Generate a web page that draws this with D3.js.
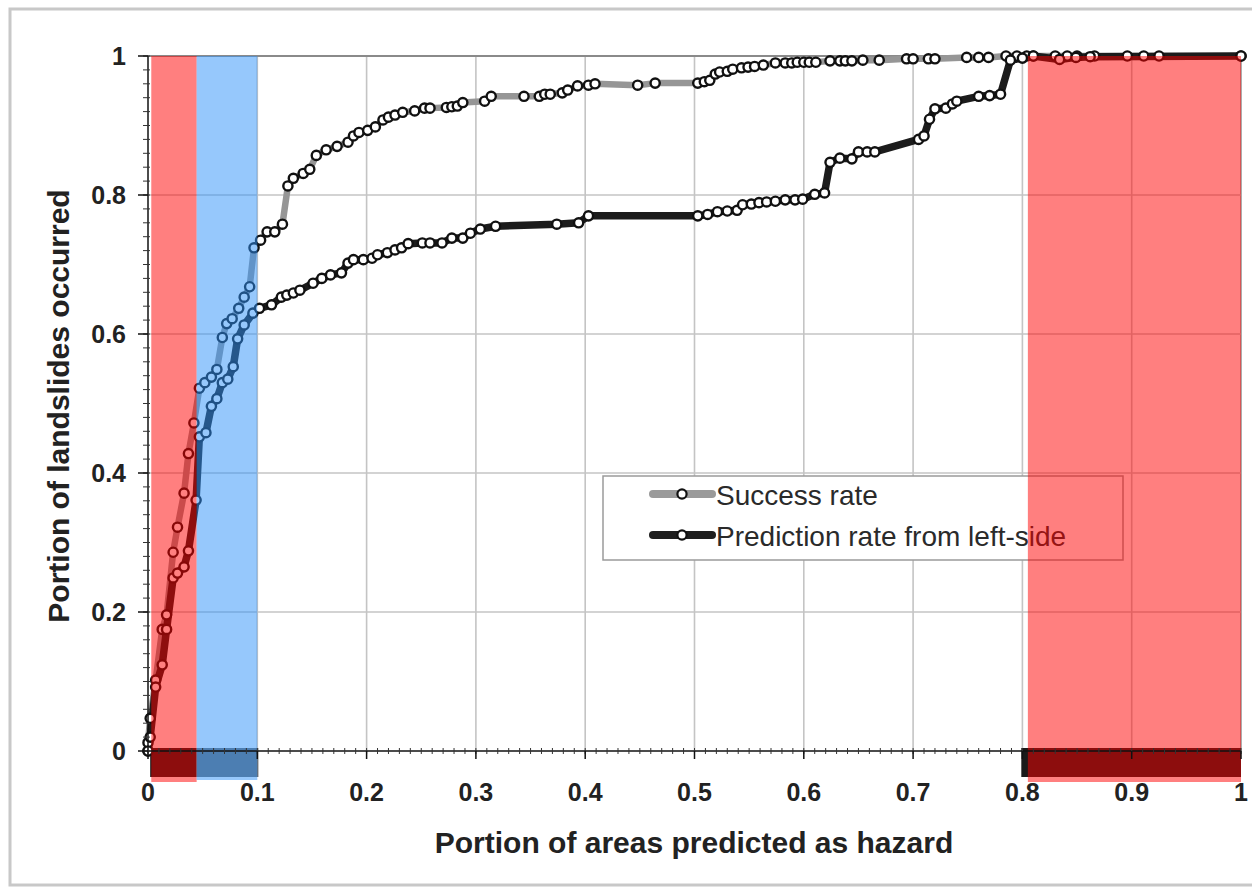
<!DOCTYPE html>
<html>
<head>
<meta charset="utf-8">
<script src="https://cdn.jsdelivr.net/npm/d3@7"></script>
<style>
  body { margin: 0; background: #fff; }
  svg { display: block; }
</style>
</head>
<body>
<div class="chart"></div>
<script>
const xTicks = [0, 0.1, 0.2, 0.3, 0.4, 0.5, 0.6, 0.7, 0.8, 0.9, 1]
const yTicks = [0, 0.2, 0.4, 0.6, 0.8, 1]
const xTickLabels = ["0", "0.1", "0.2", "0.3", "0.4", "0.5", "0.6", "0.7", "0.8", "0.9", "1"]
const yTickLabels = ["0", "0.2", "0.4", "0.6", "0.8", "1"]
const seriesNames = ["Success rate", "Prediction rate from left-side"]

const successX = [0, 0, 0.002, 0.007, 0.013, 0.017, 0.023, 0.027, 0.033, 0.037, 0.042, 0.047, 0.052, 0.058, 0.063, 0.068, 0.072, 0.077, 0.083, 0.088, 0.093, 0.097, 0.103, 0.109, 0.116, 0.123, 0.128, 0.133, 0.142, 0.148, 0.154, 0.163, 0.173, 0.183, 0.188, 0.193, 0.201, 0.208, 0.215, 0.22, 0.226, 0.233, 0.244, 0.253, 0.258, 0.273, 0.278, 0.283, 0.288, 0.308, 0.314, 0.344, 0.358, 0.363, 0.368, 0.379, 0.384, 0.393, 0.403, 0.409, 0.448, 0.464, 0.503, 0.509, 0.514, 0.519, 0.523, 0.53, 0.535, 0.543, 0.549, 0.555, 0.563, 0.574, 0.583, 0.589, 0.594, 0.6, 0.605, 0.611, 0.624, 0.633, 0.638, 0.644, 0.654, 0.669, 0.694, 0.7, 0.714, 0.72, 0.749, 0.76, 0.769, 0.785, 0.795, 0.804, 0.81, 0.83, 0.841, 0.85, 0.866, 0.896, 0.911, 0.925, 1]
const successY = [0, 0.012, 0.047, 0.102, 0.175, 0.196, 0.286, 0.322, 0.371, 0.428, 0.472, 0.522, 0.53, 0.538, 0.549, 0.595, 0.615, 0.622, 0.637, 0.653, 0.668, 0.724, 0.735, 0.747, 0.747, 0.758, 0.813, 0.824, 0.831, 0.837, 0.857, 0.865, 0.87, 0.876, 0.885, 0.89, 0.893, 0.898, 0.908, 0.912, 0.915, 0.919, 0.921, 0.925, 0.925, 0.926, 0.927, 0.928, 0.933, 0.935, 0.942, 0.942, 0.942, 0.945, 0.945, 0.947, 0.951, 0.957, 0.958, 0.96, 0.958, 0.961, 0.961, 0.963, 0.965, 0.974, 0.977, 0.978, 0.981, 0.983, 0.984, 0.985, 0.987, 0.99, 0.99, 0.99, 0.991, 0.991, 0.991, 0.991, 0.993, 0.993, 0.993, 0.993, 0.994, 0.994, 0.996, 0.996, 0.996, 0.996, 0.998, 0.998, 0.998, 1, 1, 1, 1, 1, 1, 1, 1, 1, 1, 1, 1]

const predictionX = [0, 0.002, 0.007, 0.013, 0.017, 0.023, 0.027, 0.033, 0.037, 0.044, 0.047, 0.053, 0.058, 0.063, 0.068, 0.073, 0.078, 0.082, 0.088, 0.096, 0.102, 0.113, 0.122, 0.127, 0.133, 0.139, 0.151, 0.159, 0.167, 0.177, 0.183, 0.188, 0.197, 0.205, 0.21, 0.219, 0.226, 0.232, 0.238, 0.251, 0.258, 0.269, 0.278, 0.288, 0.295, 0.304, 0.318, 0.374, 0.394, 0.403, 0.503, 0.512, 0.521, 0.53, 0.539, 0.544, 0.552, 0.559, 0.566, 0.574, 0.583, 0.592, 0.599, 0.61, 0.619, 0.624, 0.633, 0.644, 0.65, 0.658, 0.665, 0.705, 0.71, 0.715, 0.72, 0.73, 0.736, 0.74, 0.76, 0.77, 0.78, 0.789, 0.8, 0.81, 0.834, 0.849, 0.862, 1]
const predictionY = [0, 0.02, 0.092, 0.124, 0.175, 0.249, 0.256, 0.265, 0.288, 0.361, 0.452, 0.458, 0.496, 0.507, 0.53, 0.535, 0.553, 0.593, 0.613, 0.63, 0.637, 0.642, 0.653, 0.656, 0.659, 0.663, 0.673, 0.68, 0.685, 0.688, 0.702, 0.707, 0.707, 0.709, 0.714, 0.717, 0.721, 0.724, 0.73, 0.731, 0.731, 0.731, 0.738, 0.738, 0.745, 0.751, 0.755, 0.758, 0.76, 0.77, 0.77, 0.772, 0.776, 0.777, 0.778, 0.786, 0.787, 0.789, 0.79, 0.791, 0.793, 0.793, 0.794, 0.801, 0.803, 0.847, 0.853, 0.852, 0.862, 0.862, 0.862, 0.88, 0.885, 0.909, 0.924, 0.925, 0.931, 0.935, 0.942, 0.943, 0.945, 0.994, 0.997, 1, 0.995, 0.998, 0.999, 1]

// shaded zones on the x axis
const redZones = [[0.003, 0.0445], [0.805, 1]]
const blueZones = [[0.0445, 0.1]]
const bandZones = [[0.002, 0.0445], [0.799, 1]]
const bandGreyZones = [[0.0445, 0.101]]

const width = 1252
const height = 893
const font = "'Liberation Sans', Arial, Helvetica, sans-serif"

const x = d3.scaleLinear().domain([0, 1]).range([148, 1241])
const y = d3.scaleLinear().domain([0, 1]).range([751, 56])

const svg = d3.select(".chart").append("svg")
  .attr("width", width)
  .attr("height", height)

svg.append("rect")
  .attr("x", 10).attr("y", 9)
  .attr("width", width).attr("height", 876)
  .attr("fill", "#fff")
  .attr("stroke", "#c8c8c8")
  .attr("stroke-width", 3)

// grid
svg.append("g").selectAll("line")
  .data(xTicks.slice(1))
  .enter().append("line")
  .attr("x1", d => x(d)).attr("x2", d => x(d))
  .attr("y1", y(1)).attr("y2", y(0))
  .attr("stroke", d => d === 1 ? "#999" : "#c4c4c4")
  .attr("stroke-width", 1.6)

svg.append("g").selectAll("line")
  .data(yTicks.slice(1))
  .enter().append("line")
  .attr("x1", x(0)).attr("x2", x(1))
  .attr("y1", d => y(d)).attr("y2", d => y(d))
  .attr("stroke", d => d === 1 ? "#8a8a8a" : "#c4c4c4")
  .attr("stroke-width", d => d === 1 ? 2.2 : 1.6)

// legend
const legend = svg.append("g")
legend.append("rect")
  .attr("x", 603).attr("y", 476)
  .attr("width", 520).attr("height", 84)
  .attr("fill", "#fff")
  .attr("stroke", "#9a9a9a")
  .attr("stroke-width", 1.5)

const legendColors = ["#9a9a9a", "#1e1e1e"]
seriesNames.forEach(function(name, i) {
  const ly = 494 + i * 41
  legend.append("line")
    .attr("x1", 653).attr("x2", 712)
    .attr("y1", ly).attr("y2", ly)
    .attr("stroke", legendColors[i])
    .attr("stroke-width", 8)
    .attr("stroke-linecap", "round")
  legend.append("circle")
    .attr("cx", 682).attr("cy", ly).attr("r", 4.6)
    .attr("fill", "#fff")
    .attr("stroke", "#111")
    .attr("stroke-width", 2.2)
  legend.append("text")
    .attr("x", 716).attr("y", ly + 11)
    .style("font-family", font)
    .style("font-size", "28px")
    .attr("fill", "#2a2a2a")
    .text(name)
})

// dark bands along the x axis
svg.append("g").selectAll("rect")
  .data(bandZones)
  .enter().append("rect")
  .attr("x", d => x(d[0]))
  .attr("width", d => x(d[1]) - x(d[0]))
  .attr("y", y(0) - 3).attr("height", 29)
  .attr("fill", "#1a1a1a")

svg.append("g").selectAll("rect")
  .data(bandGreyZones)
  .enter().append("rect")
  .attr("x", d => x(d[0]))
  .attr("width", d => x(d[1]) - x(d[0]))
  .attr("y", y(0) - 3).attr("height", 29)
  .attr("fill", "#6a6a6a")

// curves
const success = successX.map((d, i) => [d, successY[i]])
const prediction = predictionX.map((d, i) => [d, predictionY[i]])

const line = d3.line()
  .x(d => x(d[0]))
  .y(d => y(d[1]))

svg.append("path")
  .datum(success)
  .attr("d", line)
  .attr("fill", "none")
  .attr("stroke", "#969696")
  .attr("stroke-width", 6.5)
  .attr("stroke-linejoin", "round")

svg.append("path")
  .datum(prediction)
  .attr("d", line)
  .attr("fill", "none")
  .attr("stroke", "#1c1c1c")
  .attr("stroke-width", 7.5)
  .attr("stroke-linejoin", "round")

const allPoints = success.concat(prediction)
svg.append("g").selectAll("circle")
  .data(allPoints)
  .enter().append("circle")
  .attr("cx", d => x(d[0]))
  .attr("cy", d => y(d[1]))
  .attr("r", 4.6)
  .attr("fill", "#fff")
  .attr("stroke", "#111")
  .attr("stroke-width", 2.4)

// translucent zones
svg.append("g").selectAll("rect")
  .data(redZones)
  .enter().append("rect")
  .attr("x", d => x(d[0]))
  .attr("width", d => x(d[1]) - x(d[0]))
  .attr("y", y(1)).attr("height", y(0) + 31 - y(1))
  .attr("fill", "#ff0000")
  .attr("fill-opacity", 0.5)

svg.append("g").selectAll("rect")
  .data(blueZones)
  .enter().append("rect")
  .attr("x", d => x(d[0]))
  .attr("width", d => x(d[1]) - x(d[0]))
  .attr("y", y(1)).attr("height", y(0) + 29 - y(1))
  .attr("fill", "#2d91f9")
  .attr("fill-opacity", 0.5)

// axes
svg.append("line")
  .attr("x1", x(0)).attr("x2", x(1))
  .attr("y1", y(0)).attr("y2", y(0))
  .attr("stroke", "#111").attr("stroke-width", 1.5)
svg.append("line")
  .attr("x1", x(0)).attr("x2", x(0))
  .attr("y1", y(0)).attr("y2", y(1))
  .attr("stroke", "#111").attr("stroke-width", 1.5)

svg.append("g").selectAll("line")
  .data(d3.range(0, 101).map(d => d / 100))
  .enter().append("line")
  .attr("x1", d => x(d)).attr("x2", d => x(d))
  .attr("y1", y(0) - 3).attr("y2", y(0) + 3)
  .attr("stroke", "#333").attr("stroke-width", 1)

svg.append("g").selectAll("line")
  .data(xTicks)
  .enter().append("line")
  .attr("x1", d => x(d)).attr("x2", d => x(d))
  .attr("y1", y(0)).attr("y2", y(0) + 8)
  .attr("stroke", "#111").attr("stroke-width", 1.5)

svg.append("g").selectAll("line")
  .data(d3.range(0, 51).map(d => d / 50))
  .enter().append("line")
  .attr("x1", x(0) - 5).attr("x2", x(0) + 2)
  .attr("y1", d => y(d)).attr("y2", d => y(d))
  .attr("stroke", "#333").attr("stroke-width", 1)

svg.append("g").selectAll("line")
  .data(yTicks)
  .enter().append("line")
  .attr("x1", x(0) - 10).attr("x2", x(0))
  .attr("y1", d => y(d)).attr("y2", d => y(d))
  .attr("stroke", "#111").attr("stroke-width", 1.5)

svg.append("g").selectAll("text")
  .data(xTicks)
  .enter().append("text")
  .attr("x", d => x(d))
  .attr("y", 801)
  .style("text-anchor", "middle")
  .style("font-family", font)
  .style("font-size", "25px")
  .style("font-weight", "bold")
  .attr("fill", "#222")
  .text((d, i) => xTickLabels[i])

svg.append("g").selectAll("text")
  .data(yTicks)
  .enter().append("text")
  .attr("x", 126)
  .attr("y", d => y(d) + 9)
  .style("text-anchor", "end")
  .style("font-family", font)
  .style("font-size", "25px")
  .style("font-weight", "bold")
  .attr("fill", "#222")
  .text((d, i) => yTickLabels[i])

svg.append("text")
  .attr("x", 694).attr("y", 853)
  .style("text-anchor", "middle")
  .style("font-family", font)
  .style("font-size", "30px")
  .style("font-weight", "bold")
  .attr("fill", "#222")
  .text("Portion of areas predicted as hazard")

svg.append("text")
  .attr("transform", "translate(69,406) rotate(-90)")
  .style("text-anchor", "middle")
  .style("font-family", font)
  .style("font-size", "30px")
  .style("font-weight", "bold")
  .attr("fill", "#222")
  .text("Portion of landslides occurred")
</script>
</body>
</html>
